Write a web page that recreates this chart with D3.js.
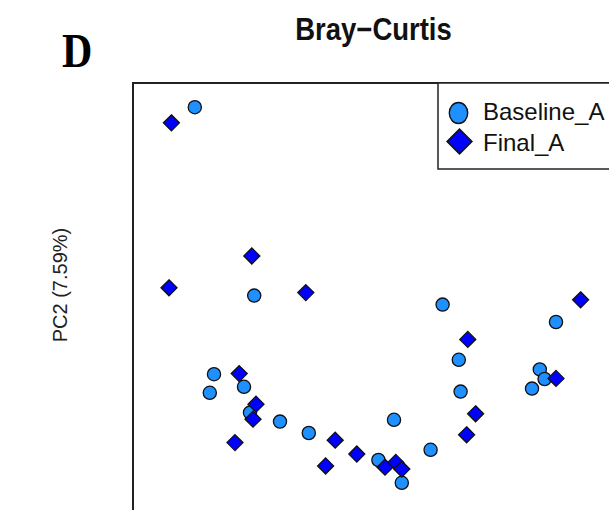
<!DOCTYPE html>
<html><head><meta charset="utf-8">
<script src="https://cdn.jsdelivr.net/npm/d3@7"></script>
<style>body{margin:0;background:#fff;overflow:hidden}</style>
</head><body>
<script>
// ---- data (PCoA coordinates, arbitrary units) ----
const groups = ["Baseline_A", "Final_A"];
const baselinePC1 = [-0.297,-0.198,0.116,-0.265,-0.272,-0.205,-0.155,-0.107,0.035,0.009,0.096,0.048,0.143,0.146,0.305,0.278,0.286,0.265,-0.215];
const baselinePC2 = [0.308,-0.006,-0.021,-0.137,-0.168,-0.201,-0.216,-0.235,-0.213,-0.280,-0.263,-0.318,-0.113,-0.166,-0.050,-0.129,-0.145,-0.161,-0.158];
const finalPC1 = [-0.336,-0.202,-0.340,-0.112,0.346,0.158,-0.223,-0.195,-0.200,-0.230,-0.063,-0.079,-0.027,0.020,0.038,0.048,0.171,0.156,0.305];
const finalPC2 = [0.282,0.060,0.007,-0.001,-0.013,-0.079,-0.136,-0.187,-0.212,-0.251,-0.247,-0.290,-0.270,-0.292,-0.284,-0.295,-0.203,-0.238,-0.144];
const titleText = "Bray\u2212Curtis";
const yLabelText = "PC2 (7.59%)";
const panelLabel = "D";

const W = 609, H = 510;
const svg = d3.select("body").append("svg").attr("width", W).attr("height", H);

const x = d3.scaleLinear().domain([-0.4, 0.4]).range([133, 613]);
const y = d3.scaleLinear().domain([0.35, -0.35]).range([82, 502]);

const diamond = {
  draw(ctx, size) {
    const r = Math.sqrt(size / 2);
    ctx.moveTo(0, -r); ctx.lineTo(r, 0); ctx.lineTo(0, r); ctx.lineTo(-r, 0); ctx.closePath();
  }
};

// frame
svg.append("rect").attr("x", 133).attr("y", 83).attr("width", 700).attr("height", 700)
  .attr("fill", "none").attr("stroke", "#222").attr("stroke-width", 2);

const baseline = baselinePC1.map((v, i) => ({pc1: v, pc2: baselinePC2[i]}));
const final = finalPC1.map((v, i) => ({pc1: v, pc2: finalPC2[i]}));

const pts = svg.append("g");
pts.selectAll("circle.b").data(baseline.slice(0, baseline.length - 1)).join("circle")
  .attr("class", "b")
  .attr("cx", d => x(d.pc1)).attr("cy", d => y(d.pc2)).attr("r", 6.6)
  .attr("fill", "#1E90FF").attr("stroke", "#111").attr("stroke-width", 1.3);
pts.selectAll("path.f").data(final).join("path")
  .attr("class", "f")
  .attr("d", d3.symbol().type(diamond).size(128))
  .attr("transform", d => `translate(${x(d.pc1)},${y(d.pc2)})`)
  .attr("fill", "#0000FF").attr("stroke", "#111").attr("stroke-width", 1.3);
pts.selectAll("circle.b2").data(baseline.slice(baseline.length - 1)).join("circle")
  .attr("class", "b2")
  .attr("cx", d => x(d.pc1)).attr("cy", d => y(d.pc2)).attr("r", 6.6)
  .attr("fill", "#1E90FF").attr("stroke", "#111").attr("stroke-width", 1.3);

// legend
const lg = svg.append("g");
lg.append("rect").attr("x", 438).attr("y", 83).attr("width", 300).attr("height", 86)
  .attr("fill", "#fff").attr("stroke", "#222").attr("stroke-width", 1.5);
lg.append("ellipse").attr("cx", 458.5).attr("cy", 113).attr("rx", 9.2).attr("ry", 10.5)
  .attr("fill", "#1E90FF").attr("stroke", "#111").attr("stroke-width", 1.4);
lg.append("path").attr("d", d3.symbol().type(diamond).size(2 * 12.5 * 12.5))
  .attr("transform", "translate(459.5,141.5)")
  .attr("fill", "#0000FF").attr("stroke", "#111").attr("stroke-width", 1.4);
lg.selectAll("text").data(groups).join("text")
  .attr("x", 483).attr("y", (d, i) => 120 + i * 30.5)
  .attr("font-family", "Liberation Sans, Arial, sans-serif").attr("font-size", 24)
  .attr("fill", "#111").text(d => d);

// title
svg.append("text").attr("transform", "translate(373.5,40) scale(1,1.14)")
  .attr("text-anchor", "middle").attr("font-family", "Liberation Sans, Arial, sans-serif")
  .attr("font-weight", "bold").attr("font-size", 27.5).attr("fill", "#111").text(titleText);

// panel label
svg.append("text").attr("transform", "translate(62,67) scale(1,1.15)")
  .attr("font-family", "Liberation Serif, Times New Roman, serif")
  .attr("font-weight", "bold").attr("font-size", 42).attr("fill", "#000").text(panelLabel);

// y label
svg.append("text").attr("transform", "translate(67,285) rotate(-90)")
  .attr("text-anchor", "middle").attr("font-family", "Liberation Sans, Arial, sans-serif")
  .attr("font-size", 20).attr("fill", "#222").text(yLabelText);
</script>
</body></html>
